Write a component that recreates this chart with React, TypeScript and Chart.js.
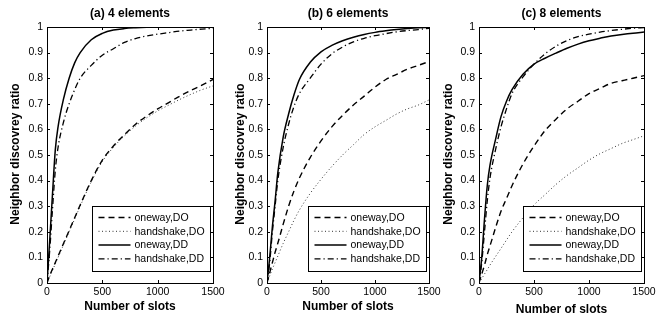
import React, { useEffect, useRef } from "react";
import { Chart, registerables } from "chart.js";

Chart.register(...registerables);

const slots = [0, 25, 50, 75, 100, 150, 200, 250, 300, 400, 500, 600, 700, 800, 900, 1000, 1100, 1200, 1300, 1400, 1500];
const xTicks = [0, 500, 1000, 1500];
const yTicks = [0, 0.1, 0.2, 0.3, 0.4, 0.5, 0.6, 0.7, 0.8, 0.9, 1];
const seriesNames = ["oneway,DO", "handshake,DO", "oneway,DD", "handshake,DD"];
const panelTitles = ["(a) 4 elements", "(b) 6 elements", "(c) 8 elements"];
const xTitle = "Number of slots";
const yTitle = "Neighbor discovrey ratio";

// Panel (a) 4 elements
const a_onewayDO = [0, 0.03, 0.055, 0.08, 0.105, 0.155, 0.205, 0.255, 0.305, 0.4, 0.48, 0.535, 0.58, 0.62, 0.652, 0.68, 0.705, 0.73, 0.752, 0.773, 0.795];
const a_handshakeDO = [0, 0.025, 0.05, 0.075, 0.1, 0.15, 0.2, 0.25, 0.3, 0.395, 0.475, 0.53, 0.575, 0.613, 0.645, 0.672, 0.695, 0.717, 0.737, 0.755, 0.77];
const a_onewayDD = [0, 0.17, 0.35, 0.52, 0.61, 0.72, 0.8, 0.86, 0.9, 0.95, 0.975, 0.988, 0.994, 0.997, 0.999, 1, 1, 1, 1, 1, 1];
const a_handshakeDD = [0, 0.13, 0.29, 0.44, 0.53, 0.63, 0.7, 0.755, 0.8, 0.85, 0.89, 0.915, 0.94, 0.955, 0.965, 0.972, 0.978, 0.984, 0.988, 0.992, 0.995];

// Panel (b) 6 elements
const b_onewayDO = [0, 0.04, 0.08, 0.12, 0.155, 0.23, 0.3, 0.36, 0.41, 0.49, 0.555, 0.61, 0.655, 0.695, 0.73, 0.765, 0.795, 0.815, 0.835, 0.85, 0.865];
const b_handshakeDO = [0, 0.028, 0.055, 0.08, 0.105, 0.155, 0.2, 0.245, 0.285, 0.35, 0.405, 0.455, 0.5, 0.54, 0.58, 0.61, 0.635, 0.66, 0.68, 0.695, 0.715];
const b_onewayDD = [0, 0.1, 0.22, 0.32, 0.43, 0.57, 0.66, 0.735, 0.795, 0.862, 0.903, 0.928, 0.946, 0.96, 0.971, 0.979, 0.985, 0.99, 0.994, 0.997, 0.998];
const b_handshakeDD = [0, 0.08, 0.2, 0.3, 0.4, 0.53, 0.62, 0.69, 0.74, 0.8, 0.855, 0.895, 0.922, 0.942, 0.956, 0.966, 0.974, 0.981, 0.986, 0.99, 0.995];

// Panel (c) 8 elements
const c_onewayDO = [0, 0.035, 0.07, 0.11, 0.145, 0.215, 0.28, 0.33, 0.38, 0.465, 0.535, 0.595, 0.64, 0.68, 0.71, 0.74, 0.76, 0.78, 0.79, 0.8, 0.81];
const c_handshakeDO = [0, 0.017, 0.035, 0.052, 0.07, 0.103, 0.135, 0.168, 0.2, 0.255, 0.305, 0.345, 0.385, 0.42, 0.45, 0.48, 0.505, 0.525, 0.545, 0.56, 0.575];
const c_onewayDD = [0, 0.1, 0.25, 0.38, 0.46, 0.56, 0.65, 0.71, 0.755, 0.815, 0.855, 0.878, 0.898, 0.917, 0.933, 0.946, 0.956, 0.965, 0.971, 0.976, 0.98];
const c_handshakeDD = [0, 0.08, 0.2, 0.32, 0.41, 0.52, 0.61, 0.68, 0.74, 0.805, 0.855, 0.895, 0.925, 0.947, 0.962, 0.972, 0.98, 0.986, 0.991, 0.995, 0.998];

const panelData = [
  [a_onewayDO, a_handshakeDO, a_onewayDD, a_handshakeDD],
  [b_onewayDO, b_handshakeDO, b_onewayDD, b_handshakeDD],
  [c_onewayDO, c_handshakeDO, c_onewayDD, c_handshakeDD],
];

const FONT = "'Liberation Sans', Arial, Helvetica, sans-serif";
const W = 667;
const H = 320;

const lineStyles = [
  { dash: [6, 4], width: 1.4, color: "#000" },
  { dash: [1, 2.5], width: 1, color: "#333" },
  { dash: [], width: 1.5, color: "#000" },
  { dash: [6, 3, 1.2, 3], width: 1.3, color: "#000" },
];

// layout per panel: chart area left/right, y-title x, x-title y
const layouts = [
  { left: 47, right: 213, yTitleX: 16, xTitleY: 307 },
  { left: 267, right: 429, yTitleX: 241, xTitleY: 307 },
  { left: 479, right: 644, yTitleX: 449, xTitleY: 310 },
];
const TOP = 27;
const BOTTOM = 283;
const AXIS_W = 47;

function makeChart(canvas: HTMLCanvasElement, idx: number) {
  const lay = layouts[idx];
  const data = panelData[idx];

  const decor = {
    id: "decor" + idx,
    afterDraw(chart: any) {
      const ctx = chart.ctx as CanvasRenderingContext2D;
      const ca = chart.chartArea;
      const xs = chart.scales.x;
      const ys = chart.scales.y;
      ctx.save();
      // box
      ctx.strokeStyle = "#000";
      ctx.lineWidth = 1;
      ctx.setLineDash([]);
      ctx.strokeRect(Math.round(ca.left) + 0.5, Math.round(ca.top) + 0.5, Math.round(ca.right - ca.left), Math.round(ca.bottom - ca.top));
      // inward ticks
      const tl = 3;
      ctx.beginPath();
      xTicks.forEach((v) => {
        const px = Math.round(xs.getPixelForValue(v)) + 0.5;
        ctx.moveTo(px, ca.bottom);
        ctx.lineTo(px, ca.bottom - tl);
        ctx.moveTo(px, ca.top);
        ctx.lineTo(px, ca.top + tl);
      });
      yTicks.forEach((v) => {
        const py = Math.round(ys.getPixelForValue(v)) + 0.5;
        ctx.moveTo(ca.left, py);
        ctx.lineTo(ca.left + tl, py);
        ctx.moveTo(ca.right, py);
        ctx.lineTo(ca.right - tl, py);
      });
      ctx.stroke();

      // legend
      const lw = 118;
      const lh = 65;
      const lx = Math.round(ca.right - 3 - lw) + 0.5;
      const ly = 206.5;
      ctx.fillStyle = "#fff";
      ctx.fillRect(lx, ly, lw, lh);
      ctx.strokeStyle = "#000";
      ctx.lineWidth = 1;
      ctx.strokeRect(lx, ly, lw, lh);
      ctx.font = `10.5px ${FONT}`;
      ctx.textBaseline = "middle";
      ctx.textAlign = "left";
      seriesNames.forEach((name, i) => {
        const ry = ly + 11 + i * 13.8;
        const st = lineStyles[i];
        ctx.beginPath();
        ctx.setLineDash(st.dash);
        ctx.lineWidth = st.width;
        ctx.strokeStyle = st.color;
        ctx.moveTo(lx + 6, ry);
        ctx.lineTo(lx + 38, ry);
        ctx.stroke();
        ctx.setLineDash([]);
        ctx.fillStyle = "#000";
        ctx.fillText(name, lx + 42, ry + 0.5);
      });

      // titles
      ctx.fillStyle = "#000";
      ctx.font = `bold 12px ${FONT}`;
      ctx.textAlign = "center";
      ctx.textBaseline = "middle";
      ctx.fillText(panelTitles[idx], (ca.left + ca.right) / 2, 14);
      ctx.fillText(xTitle, (ca.left + ca.right) / 2, lay.xTitleY);
      ctx.save();
      ctx.translate(lay.yTitleX, 154);
      ctx.rotate(-Math.PI / 2);
      ctx.fillText(yTitle, 0, 0);
      ctx.restore();
      ctx.restore();
    },
  };

  return new Chart(canvas, {
    type: "line",
    data: {
      datasets: data.map((vals, i) => ({
        label: seriesNames[i],
        data: slots.map((s, k) => ({ x: s, y: vals[k] })),
        borderColor: lineStyles[i].color,
        borderWidth: lineStyles[i].width,
        borderDash: lineStyles[i].dash,
        pointRadius: 0,
        fill: false,
        cubicInterpolationMode: "monotone" as const,
      })),
    },
    options: {
      responsive: false,
      animation: false,
      events: [],
      layout: {
        padding: { top: TOP, bottom: 0, left: lay.left - AXIS_W, right: W - lay.right },
      },
      plugins: {
        legend: { display: false },
        title: { display: false },
        tooltip: { enabled: false },
      },
      scales: {
        x: {
          type: "linear",
          min: 0,
          max: 1500,
          afterFit: (s: any) => {
            s.height = H - BOTTOM;
          },
          afterBuildTicks: (s: any) => {
            s.ticks = xTicks.map((v) => ({ value: v }));
          },
          grid: { display: false, drawTicks: false, tickLength: 0 },
          border: { display: false },
          ticks: {
            color: "#000",
            font: { family: FONT, size: 10.5 },
            padding: 3,
            maxRotation: 0,
            autoSkip: false,
            callback: (v: any) => String(v),
          },
        },
        y: {
          type: "linear",
          min: 0,
          max: 1,
          afterFit: (s: any) => {
            s.width = AXIS_W;
          },
          afterBuildTicks: (s: any) => {
            s.ticks = yTicks.map((v) => ({ value: v }));
          },
          grid: { display: false, drawTicks: false, tickLength: 0 },
          border: { display: false },
          ticks: {
            color: "#000",
            font: { family: FONT, size: 10.5 },
            padding: 4,
            autoSkip: false,
            callback: (v: any) => String(Math.round(Number(v) * 10) / 10),
          },
        },
      },
    },
    plugins: [decor],
  } as any);
}

function Panel({ idx }: { idx: number }) {
  const ref = useRef<HTMLCanvasElement | null>(null);
  useEffect(() => {
    if (!ref.current) return;
    const chart = makeChart(ref.current, idx);
    return () => chart.destroy();
  }, [idx]);
  return (
    <canvas
      ref={ref}
      width={W}
      height={H}
      style={{ position: "absolute", left: 0, top: 0, width: W, height: H }}
    />
  );
}

export default function App() {
  return (
    <div style={{ position: "absolute", left: 0, top: 0, width: W, height: H, background: "#fff", overflow: "hidden" }}>
      <Panel idx={0} />
      <Panel idx={1} />
      <Panel idx={2} />
    </div>
  );
}
